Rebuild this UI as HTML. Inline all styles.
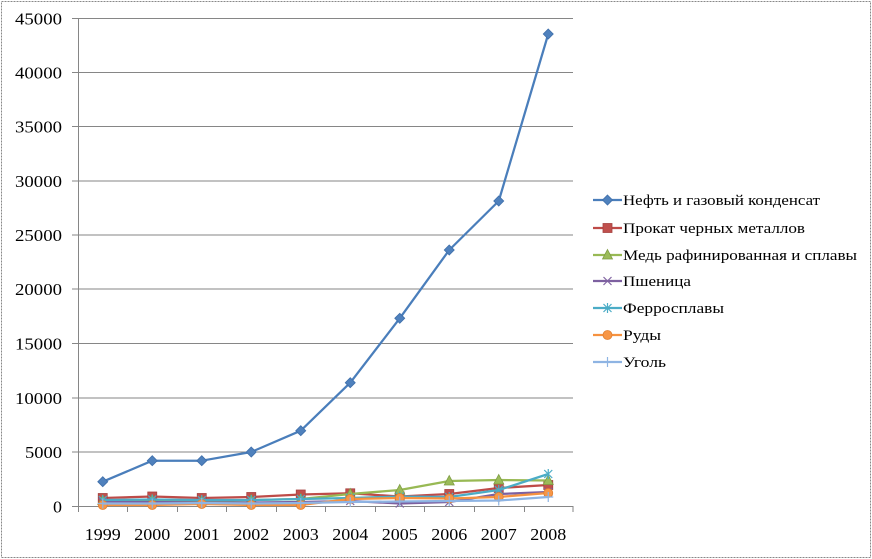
<!DOCTYPE html>
<html><head><meta charset="utf-8">
<style>
html,body{margin:0;padding:0;background:#fff;}
svg{display:block;}
text{font-family:"Liberation Serif","DejaVu Serif",serif;fill:#000;}
</style></head>
<body>
<svg width="872" height="559" viewBox="0 0 872 559" xmlns="http://www.w3.org/2000/svg">
<rect x="1.5" y="1.5" width="869" height="556" fill="#fff" stroke="#888" stroke-width="1" stroke-dasharray="2,1"/>
<!-- gridlines -->
<g stroke="#868686" stroke-width="1">
<line x1="72" y1="18.5" x2="573" y2="18.5"/>
<line x1="72" y1="72.5" x2="573" y2="72.5"/>
<line x1="72" y1="126.5" x2="573" y2="126.5"/>
<line x1="72" y1="181" x2="573" y2="181"/>
<line x1="72" y1="235" x2="573" y2="235"/>
<line x1="72" y1="289" x2="573" y2="289"/>
<line x1="72" y1="343.5" x2="573" y2="343.5"/>
<line x1="72" y1="398" x2="573" y2="398"/>
<line x1="72" y1="452" x2="573" y2="452"/>
<line x1="72" y1="506.5" x2="573" y2="506.5"/>
<line x1="78.5" y1="18" x2="78.5" y2="512"/>
<line x1="127.5" y1="506" x2="127.5" y2="512"/>
<line x1="177.5" y1="506" x2="177.5" y2="512"/>
<line x1="226.5" y1="506" x2="226.5" y2="512"/>
<line x1="276.5" y1="506" x2="276.5" y2="512"/>
<line x1="325.5" y1="506" x2="325.5" y2="512"/>
<line x1="375.5" y1="506" x2="375.5" y2="512"/>
<line x1="424.5" y1="506" x2="424.5" y2="512"/>
<line x1="474.5" y1="506" x2="474.5" y2="512"/>
<line x1="524.5" y1="506" x2="524.5" y2="512"/>
<line x1="573" y1="506" x2="573" y2="512"/>
</g>
<!-- y labels -->
<g font-size="17" text-anchor="end">
<text x="62" y="24.5" textLength="47" lengthAdjust="spacingAndGlyphs">45000</text>
<text x="62" y="78.5" textLength="47" lengthAdjust="spacingAndGlyphs">40000</text>
<text x="62" y="132.5" textLength="47" lengthAdjust="spacingAndGlyphs">35000</text>
<text x="62" y="187" textLength="47" lengthAdjust="spacingAndGlyphs">30000</text>
<text x="62" y="241" textLength="47" lengthAdjust="spacingAndGlyphs">25000</text>
<text x="62" y="295" textLength="47" lengthAdjust="spacingAndGlyphs">20000</text>
<text x="62" y="349.5" textLength="47" lengthAdjust="spacingAndGlyphs">15000</text>
<text x="62" y="404" textLength="47" lengthAdjust="spacingAndGlyphs">10000</text>
<text x="62" y="458" textLength="37" lengthAdjust="spacingAndGlyphs">5000</text>
<text x="62" y="512.5" textLength="9" lengthAdjust="spacingAndGlyphs">0</text>
</g>
<!-- x labels -->
<g font-size="17" text-anchor="middle">
<text x="102.75" y="540" textLength="36" lengthAdjust="spacingAndGlyphs">1999</text>
<text x="152.25" y="540" textLength="36" lengthAdjust="spacingAndGlyphs">2000</text>
<text x="201.75" y="540" textLength="36" lengthAdjust="spacingAndGlyphs">2001</text>
<text x="251.25" y="540" textLength="36" lengthAdjust="spacingAndGlyphs">2002</text>
<text x="300.75" y="540" textLength="36" lengthAdjust="spacingAndGlyphs">2003</text>
<text x="350.25" y="540" textLength="36" lengthAdjust="spacingAndGlyphs">2004</text>
<text x="399.75" y="540" textLength="36" lengthAdjust="spacingAndGlyphs">2005</text>
<text x="449.25" y="540" textLength="36" lengthAdjust="spacingAndGlyphs">2006</text>
<text x="498.75" y="540" textLength="36" lengthAdjust="spacingAndGlyphs">2007</text>
<text x="548.25" y="540" textLength="36" lengthAdjust="spacingAndGlyphs">2008</text>
</g>
<defs>
<path id="mDia" d="M0,-5 L5,0 L0,5 L-5,0 Z"/>
<rect id="mSq" x="-4.5" y="-4.5" width="9" height="9"/>
<path id="mTri" d="M0,-5.5 L5,4 L-5,4 Z"/>
<path id="mX" d="M-4,-4 L4,4 M-4,4 L4,-4"/>
<path id="mAst" d="M-4,-4 L4,4 M-4,4 L4,-4 M0,-5 L0,5"/>
<circle id="mCir" r="4.5"/>
<path id="mPlus" d="M-5,0 L5,0 M0,-5 L0,5"/>
</defs>
<!-- Oil -->
<g>
<polyline fill="none" stroke="#4A7EBB" stroke-width="2.25" stroke-linejoin="round" points="102.75,481.7 152.25,460.7 201.75,460.7 251.25,452 300.75,430.7 350.25,382.7 399.75,318.3 449.25,250 498.75,201 548.25,34"/>
<g fill="#4F81BD" stroke="#3F6FAA" stroke-width="0.8">
<use href="#mDia" x="102.75" y="481.7"/><use href="#mDia" x="152.25" y="460.7"/><use href="#mDia" x="201.75" y="460.7"/><use href="#mDia" x="251.25" y="452"/><use href="#mDia" x="300.75" y="430.7"/><use href="#mDia" x="350.25" y="382.7"/><use href="#mDia" x="399.75" y="318.3"/><use href="#mDia" x="449.25" y="250"/><use href="#mDia" x="498.75" y="201"/><use href="#mDia" x="548.25" y="34"/>
</g>
</g>
<!-- Red -->
<g>
<polyline fill="none" stroke="#BE4B48" stroke-width="2.25" stroke-linejoin="round" points="102.75,498 152.25,496.5 201.75,498 251.25,497 300.75,494.5 350.25,493.3 399.75,496.5 449.25,494 498.75,488 548.25,485"/>
<g fill="#C0504D" stroke="#A64340" stroke-width="0.8">
<use href="#mSq" x="102.75" y="498"/><use href="#mSq" x="152.25" y="496.5"/><use href="#mSq" x="201.75" y="498"/><use href="#mSq" x="251.25" y="497"/><use href="#mSq" x="300.75" y="494.5"/><use href="#mSq" x="350.25" y="493.3"/><use href="#mSq" x="399.75" y="496.5"/><use href="#mSq" x="449.25" y="494"/><use href="#mSq" x="498.75" y="488"/><use href="#mSq" x="548.25" y="485"/>
</g>
</g>
<!-- Green -->
<g>
<polyline fill="none" stroke="#98B954" stroke-width="2.25" stroke-linejoin="round" points="102.75,500.5 152.25,500 201.75,501 251.25,500 300.75,499 350.25,494 399.75,490 449.25,481 498.75,480 548.25,480.5"/>
<g fill="#9BBB59" stroke="#7E9C43" stroke-width="0.8">
<use href="#mTri" x="102.75" y="500.5"/><use href="#mTri" x="152.25" y="500"/><use href="#mTri" x="201.75" y="501"/><use href="#mTri" x="251.25" y="500"/><use href="#mTri" x="300.75" y="499"/><use href="#mTri" x="350.25" y="494"/><use href="#mTri" x="399.75" y="490"/><use href="#mTri" x="449.25" y="481"/><use href="#mTri" x="498.75" y="480"/><use href="#mTri" x="548.25" y="480.5"/>
</g>
</g>
<!-- Purple -->
<g>
<polyline fill="none" stroke="#7D60A0" stroke-width="2.25" stroke-linejoin="round" points="102.75,502 152.25,502 201.75,502.5 251.25,502.5 300.75,502 350.25,501 399.75,503.5 449.25,502 498.75,494 548.25,492"/>
<g fill="none" stroke="#8064A2" stroke-width="1.2">
<use href="#mX" x="102.75" y="502"/><use href="#mX" x="152.25" y="502"/><use href="#mX" x="201.75" y="502.5"/><use href="#mX" x="251.25" y="502.5"/><use href="#mX" x="300.75" y="502"/><use href="#mX" x="350.25" y="501"/><use href="#mX" x="399.75" y="503.5"/><use href="#mX" x="449.25" y="502"/><use href="#mX" x="498.75" y="494"/><use href="#mX" x="548.25" y="492"/>
</g>
</g>
<!-- Teal -->
<g>
<polyline fill="none" stroke="#4BACC6" stroke-width="2.25" stroke-linejoin="round" points="102.75,500 152.25,499.5 201.75,500 251.25,500 300.75,499 350.25,498 399.75,496.5 449.25,497 498.75,490 548.25,474"/>
<g fill="none" stroke="#4BACC6" stroke-width="1.2">
<use href="#mAst" x="102.75" y="500"/><use href="#mAst" x="152.25" y="499.5"/><use href="#mAst" x="201.75" y="500"/><use href="#mAst" x="251.25" y="500"/><use href="#mAst" x="300.75" y="499"/><use href="#mAst" x="350.25" y="498"/><use href="#mAst" x="399.75" y="496.5"/><use href="#mAst" x="449.25" y="497"/><use href="#mAst" x="498.75" y="490"/><use href="#mAst" x="548.25" y="474"/>
</g>
</g>
<!-- Orange -->
<g>
<polyline fill="none" stroke="#F69240" stroke-width="2.25" stroke-linejoin="round" points="102.75,505 152.25,505 201.75,504 251.25,505 300.75,505 350.25,499 399.75,498 449.25,498.5 498.75,497 548.25,493"/>
<g fill="#F79646" stroke="#E07F30" stroke-width="0.8">
<use href="#mCir" x="102.75" y="505"/><use href="#mCir" x="152.25" y="505"/><use href="#mCir" x="201.75" y="504"/><use href="#mCir" x="251.25" y="505"/><use href="#mCir" x="300.75" y="505"/><use href="#mCir" x="350.25" y="499"/><use href="#mCir" x="399.75" y="498"/><use href="#mCir" x="449.25" y="498.5"/><use href="#mCir" x="498.75" y="497"/><use href="#mCir" x="548.25" y="493"/>
</g>
</g>
<!-- Light blue -->
<g>
<polyline fill="none" stroke="#8EB4E3" stroke-width="2.25" stroke-linejoin="round" points="102.75,503.5 152.25,503.5 201.75,503 251.25,503.5 300.75,503 350.25,502 399.75,501.5 449.25,501 498.75,500.5 548.25,497"/>
<g fill="none" stroke="#8EB4E3" stroke-width="1.2">
<use href="#mPlus" x="102.75" y="503.5"/><use href="#mPlus" x="152.25" y="503.5"/><use href="#mPlus" x="201.75" y="503"/><use href="#mPlus" x="251.25" y="503.5"/><use href="#mPlus" x="300.75" y="503"/><use href="#mPlus" x="350.25" y="502"/><use href="#mPlus" x="399.75" y="501.5"/><use href="#mPlus" x="449.25" y="501"/><use href="#mPlus" x="498.75" y="500.5"/><use href="#mPlus" x="548.25" y="497"/>
</g>
</g>
<!-- Legend -->
<g stroke-width="2.25">
<line x1="593" y1="200" x2="622" y2="200" stroke="#4A7EBB"/>
<use href="#mDia" x="607.5" y="200" fill="#4F81BD" stroke="#3F6FAA" stroke-width="0.8"/>
<line x1="593" y1="228" x2="622" y2="228" stroke="#BE4B48"/>
<use href="#mSq" x="607.5" y="228" fill="#C0504D" stroke="#A64340" stroke-width="0.8"/>
<line x1="593" y1="255" x2="622" y2="255" stroke="#98B954"/>
<use href="#mTri" x="607.5" y="255" fill="#9BBB59" stroke="#7E9C43" stroke-width="0.8"/>
<line x1="593" y1="281" x2="622" y2="281" stroke="#7D60A0"/>
<use href="#mX" x="607.5" y="281" fill="none" stroke="#8064A2" stroke-width="1.2"/>
<line x1="593" y1="308" x2="622" y2="308" stroke="#4BACC6"/>
<use href="#mAst" x="607.5" y="308" fill="none" stroke="#4BACC6" stroke-width="1.2"/>
<line x1="593" y1="335" x2="622" y2="335" stroke="#F69240"/>
<use href="#mCir" x="607.5" y="335" fill="#F79646" stroke="#E07F30" stroke-width="0.8"/>
<line x1="593" y1="362" x2="622" y2="362" stroke="#8EB4E3"/>
<use href="#mPlus" x="607.5" y="362" fill="none" stroke="#8EB4E3" stroke-width="1.2"/>
</g>
<g font-size="15">
<text x="623" y="205" textLength="197" lengthAdjust="spacingAndGlyphs">Нефть и газовый конденсат</text>
<text x="623" y="233" textLength="182" lengthAdjust="spacingAndGlyphs">Прокат черных металлов</text>
<text x="623" y="260" textLength="234" lengthAdjust="spacingAndGlyphs">Медь рафинированная и сплавы</text>
<text x="623" y="286" textLength="68" lengthAdjust="spacingAndGlyphs">Пшеница</text>
<text x="623" y="313" textLength="101" lengthAdjust="spacingAndGlyphs">Ферросплавы</text>
<text x="623" y="340" textLength="38" lengthAdjust="spacingAndGlyphs">Руды</text>
<text x="623" y="367" textLength="43" lengthAdjust="spacingAndGlyphs">Уголь</text>
</g>
</svg>
</body></html>
